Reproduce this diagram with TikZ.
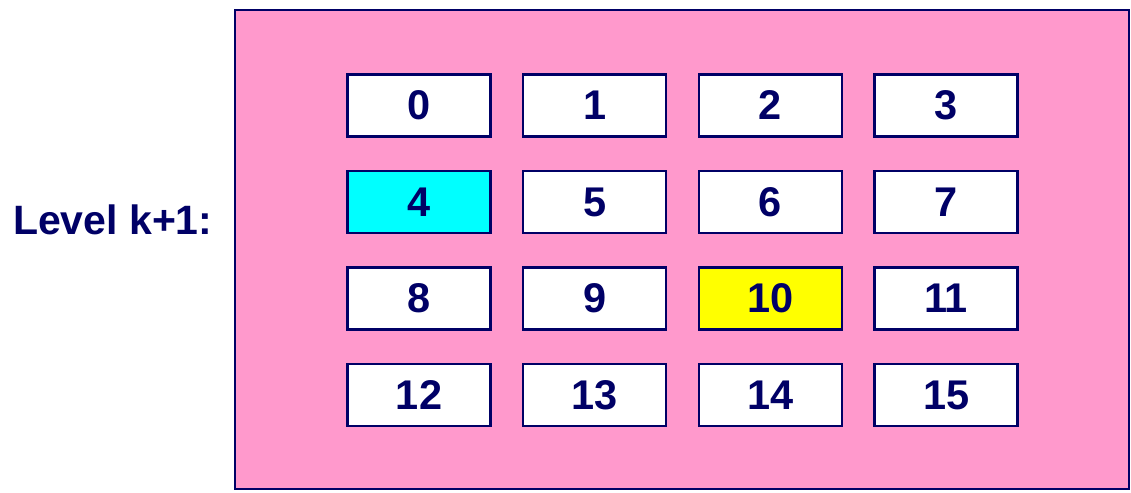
\documentclass[tikz,border=0pt]{standalone}
\usepackage{fontspec}
\setmainfont{Liberation Sans}
\definecolor{navy}{RGB}{0,0,102}
\definecolor{pinkbg}{RGB}{255,153,204}
\definecolor{cyanbox}{RGB}{0,255,255}
\definecolor{yellowbox}{RGB}{255,255,0}
\newcommand{\lowered}[1]{\raisebox{-2.5pt}{#1}}
\begin{document}
\begin{tikzpicture}[x=1pt,y=-1pt,
  cell/.style={draw=navy,line width=2.5pt,fill=white,minimum width=143pt,minimum height=62pt,inner sep=0pt,
    font=\fontsize{41.5}{41.5}\selectfont\bfseries,text=navy},
  panel/.style={draw=navy,line width=2pt,fill=pinkbg}]
\useasboundingbox (0,0) rectangle (1131,492);
\draw[panel] (235,10) rectangle (1129,489);
\node[anchor=east,font=\fontsize{41}{41}\selectfont\bfseries,text=navy] (lbl) at (216,220) {Level k+1:};
\foreach \r in {0,1,2,3}{
  \foreach \c in {0,1,2,3}{
    \pgfmathtruncatemacro{\n}{4*\r+\c}
    \pgfmathsetmacro{\xx}{419+175.7*\c}
    \pgfmathsetmacro{\yy}{105.5+96.5*\r}
    \node[cell] (b\n) at (\xx,\yy) {\lowered{\n}};
  }
}
\node[cell,fill=cyanbox] at (b4) {\lowered{4}};
\node[cell,fill=yellowbox] at (b10) {\lowered{10}};
\end{tikzpicture}
\end{document}
